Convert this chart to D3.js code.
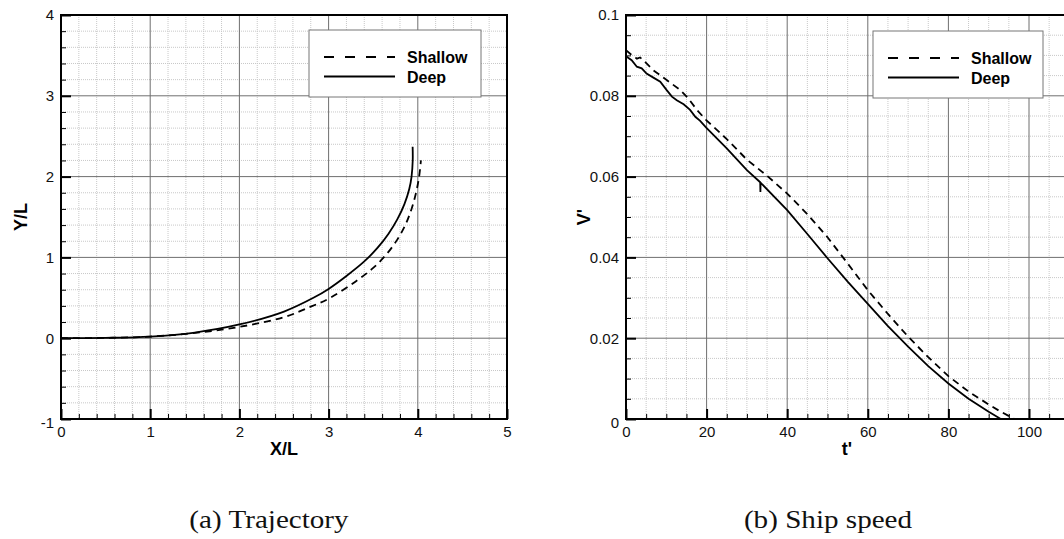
<!DOCTYPE html>
<html>
<head>
<meta charset="utf-8">
<script src="https://cdn.jsdelivr.net/npm/d3@7"></script>
<style>
  body { margin: 0; background: #fff; }
  svg { display: block; }
</style>
</head>
<body>
<svg id="fig" width="1064" height="539"></svg>
<script>
// ---- data ----
const seriesNames = ["Shallow", "Deep"];

// (a) trajectory, X/L vs Y/L
const trajShallowX = [0, 0.5, 1, 1.5, 2, 2.5, 2.8, 3.02, 3.3, 3.5, 3.65, 3.77, 3.86, 3.93, 3.98, 4.015, 4.035];
const trajShallowY = [0, 0.004, 0.02, 0.065, 0.14, 0.26, 0.39, 0.5, 0.7, 0.87, 1.04, 1.22, 1.4, 1.6, 1.8, 2.0, 2.2];
const trajDeepX = [0, 0.5, 1, 1.5, 2, 2.5, 2.83, 3, 3.2, 3.4, 3.55, 3.67, 3.77, 3.85, 3.905, 3.93, 3.943, 3.942];
const trajDeepY = [0, 0.004, 0.02, 0.07, 0.17, 0.33, 0.5, 0.61, 0.77, 0.95, 1.12, 1.29, 1.47, 1.66, 1.85, 2.0, 2.2, 2.37];

// (b) ship speed, t' vs V'
const speedShallowT = [0, 1.4, 2.7, 3.5, 4.7, 6.8, 10.1, 13.5, 15.5, 17.6, 19.9, 25, 30, 35, 40, 45, 50, 55, 60, 65, 70, 75, 80, 85, 90, 93, 96.4];
const speedShallowV = [0.0913, 0.0901, 0.0892, 0.0895, 0.0884, 0.0863, 0.0839, 0.0814, 0.0793, 0.0765, 0.074, 0.0693, 0.0642, 0.0602, 0.0558, 0.0507, 0.045, 0.0385, 0.0319, 0.026, 0.0204, 0.0153, 0.0106, 0.0068, 0.0036, 0.0018, 0];
const speedDeepT = [0, 1.4, 2.7, 3.9, 5.1, 6.8, 8.5, 10.1, 11.4, 12.6, 14.3, 15.9, 17.2, 18.4, 19.9, 25, 30, 33.3, 33.35, 33.4, 40, 45, 50, 55, 60, 65, 70, 75, 80, 85, 90, 93];
const speedDeepV = [0.0898, 0.0888, 0.0872, 0.0868, 0.0855, 0.0845, 0.0835, 0.0814, 0.0798, 0.0789, 0.0779, 0.0765, 0.0748, 0.0738, 0.0721, 0.067, 0.0616, 0.0586, 0.0562, 0.0585, 0.0517, 0.0458, 0.0398, 0.034, 0.0285, 0.023, 0.0179, 0.0131, 0.0088, 0.005, 0.0018, 0];

const trajXTicks = [0, 1, 2, 3, 4, 5];
const trajYTicks = [-1, 0, 1, 2, 3, 4];
const speedXTicks = [0, 20, 40, 60, 80, 100];
const speedYTicks = [0, 0.02, 0.04, 0.06, 0.08, 0.1];
const captions = ["(a) Trajectory", "(b) Ship speed"];

// ---- drawing ----
const svg = d3.select("#fig");
svg.append("rect").attr("width", 1064).attr("height", 539).attr("fill", "#fff");

const SANS = "'Liberation Sans', Arial, sans-serif";
const SERIF = "'Liberation Serif', 'Times New Roman', serif";
const dashCurve = "7,5";
const plain = d => String(d);

function zip(xs, ys) { return xs.map((x, i) => [x, ys[i]]); }

function drawPanel(cfg) {
  const x = d3.scaleLinear().domain(cfg.xDomain).range([cfg.left, cfg.right]);
  const y = d3.scaleLinear().domain(cfg.yDomain).range([cfg.bottom, cfg.top]);
  const g = svg.append("g");

  const xMinor = d3.range(cfg.xDomain[0], cfg.xDomain[1] + 1e-9, cfg.xMinorStep)
    .filter(v => !cfg.xTicks.some(t => Math.abs(t - v) < 1e-9));
  const yMinor = d3.range(cfg.yDomain[0], cfg.yDomain[1] + 1e-9, cfg.yMinorStep)
    .filter(v => !cfg.yTicks.some(t => Math.abs(t - v) < 1e-9));

  // minor grid
  const grid = g.append("g");
  grid.selectAll(".vmin").data(xMinor).join("line")
    .attr("x1", d => x(d)).attr("x2", d => x(d)).attr("y1", cfg.top).attr("y2", cfg.bottom)
    .attr("stroke", "#c8c8c8").attr("stroke-width", 1).attr("stroke-dasharray", "1,1");
  grid.selectAll(".hmin").data(yMinor).join("line")
    .attr("y1", d => y(d)).attr("y2", d => y(d)).attr("x1", cfg.left).attr("x2", cfg.right)
    .attr("stroke", "#c8c8c8").attr("stroke-width", 1).attr("stroke-dasharray", "1,1");
  // major grid
  grid.selectAll(".vmaj").data(cfg.xGrid).join("line")
    .attr("x1", d => x(d)).attr("x2", d => x(d)).attr("y1", cfg.top).attr("y2", cfg.bottom)
    .attr("stroke", "#6f6f6f").attr("stroke-width", 1);
  grid.selectAll(".hmaj").data(cfg.yTicks).join("line")
    .attr("y1", d => y(d)).attr("y2", d => y(d)).attr("x1", cfg.left).attr("x2", cfg.right)
    .attr("stroke", "#6f6f6f").attr("stroke-width", 1);

  // series
  const line = d3.line().x(d => x(d[0])).y(d => y(d[1])).curve(cfg.curve);
  cfg.series.forEach(s => {
    g.append("path").attr("d", line(s.points)).attr("fill", "none")
      .attr("stroke", "#000").attr("stroke-width", 1.8)
      .attr("stroke-dasharray", s.dashed ? dashCurve : null);
  });

  // frame
  g.append("rect").attr("x", cfg.left).attr("y", cfg.top)
    .attr("width", cfg.right - cfg.left).attr("height", cfg.bottom - cfg.top)
    .attr("fill", "none").attr("stroke", "#000").attr("stroke-width", 2);

  // axes with inward ticks
  const xAxis = g.append("g").attr("transform", `translate(0,${cfg.bottom})`)
    .call(d3.axisBottom(x).tickValues(cfg.xTicks).tickFormat(cfg.xFmt)
      .tickSizeInner(-10).tickSizeOuter(0).tickPadding(7));
  const yAxis = g.append("g").attr("transform", `translate(${cfg.left},0)`)
    .call(d3.axisLeft(y).tickValues(cfg.yTicks).tickFormat(cfg.yFmt)
      .tickSizeInner(-10).tickSizeOuter(0).tickPadding(7));
  const xAxisMinor = g.append("g").attr("transform", `translate(0,${cfg.bottom})`)
    .call(d3.axisBottom(x).tickValues(xMinor).tickFormat("").tickSizeInner(-5).tickSizeOuter(0));
  const yAxisMinor = g.append("g").attr("transform", `translate(${cfg.left},0)`)
    .call(d3.axisLeft(y).tickValues(yMinor).tickFormat("").tickSizeInner(-5).tickSizeOuter(0));

  [xAxis, yAxis, xAxisMinor, yAxisMinor].forEach(a => a.select(".domain").remove());
  [xAxis, yAxis].forEach(a => a.selectAll(".tick line").attr("stroke", "#000").attr("stroke-width", 2));
  [xAxisMinor, yAxisMinor].forEach(a => a.selectAll(".tick line").attr("stroke", "#000").attr("stroke-width", 1));
  [xAxis, yAxis].forEach(a => a.selectAll(".tick text")
    .attr("font-family", SANS).attr("font-size", 15).attr("fill", "#111"));
  // lowest y label sits a little below the corner
  yAxis.selectAll(".tick text").filter(d => d === cfg.yDomain[0]).attr("dy", "0.55em");

  // axis titles
  g.append("text").attr("x", cfg.xTitleX).attr("y", 455).attr("text-anchor", "middle")
    .attr("font-family", SANS).attr("font-weight", "bold").attr("font-size", 18)
    .text(cfg.xTitle);
  g.append("text").attr("transform", `translate(${cfg.yTitleX},${(cfg.top + cfg.bottom) / 2}) rotate(-90)`)
    .attr("text-anchor", "middle")
    .attr("font-family", SANS).attr("font-weight", "bold").attr("font-size", 18)
    .text(cfg.yTitle);

  // legend
  const L = cfg.legend;
  const lg = g.append("g").attr("transform", `translate(${L.x},${L.y})`);
  lg.append("rect").attr("width", L.w).attr("height", L.h)
    .attr("fill", "#fff").attr("stroke", "#777").attr("stroke-width", 1);
  cfg.series.forEach((s, i) => {
    const ly = 27 + i * 19.5;
    lg.append("line").attr("x1", 15).attr("x2", 86).attr("y1", ly).attr("y2", ly)
      .attr("stroke", "#000").attr("stroke-width", 2)
      .attr("stroke-dasharray", s.dashed ? "10,11" : null);
    lg.append("text").attr("x", 98).attr("y", ly + 6)
      .attr("font-family", SANS).attr("font-weight", "bold").attr("font-size", 16)
      .text(s.name);
  });

  // caption
  svg.append("text")
    .attr("transform", `translate(${cfg.captionX},528) scale(1.12,1)`)
    .attr("text-anchor", "middle")
    .attr("font-family", SERIF).attr("font-size", 26).attr("fill", "#111")
    .text(cfg.caption);
}

drawPanel({
  left: 61, right: 507, top: 15, bottom: 419,
  xDomain: [0, 5], yDomain: [-1, 4],
  xTicks: trajXTicks, xGrid: trajXTicks, yTicks: trajYTicks, xMinorStep: 0.2, yMinorStep: 0.2,
  xFmt: plain, yFmt: plain,
  xTitle: "X/L", yTitle: "Y/L", xTitleX: 284, yTitleX: 27,
  legend: { x: 309, y: 30, w: 172, h: 67 },
  curve: d3.curveCatmullRom.alpha(0.5),
  series: [
    { name: seriesNames[0], dashed: true, points: zip(trajShallowX, trajShallowY) },
    { name: seriesNames[1], dashed: false, points: zip(trajDeepX, trajDeepY) }
  ],
  caption: captions[0], captionX: 269
});

drawPanel({
  left: 626, right: 626 + 120 * 4.03, top: 15, bottom: 419,
  xDomain: [0, 120], yDomain: [0, 0.1],
  xTicks: speedXTicks, xGrid: speedXTicks.concat([120]), yTicks: speedYTicks, xMinorStep: 5, yMinorStep: 0.005,
  xFmt: plain, yFmt: plain,
  xTitle: "t'", yTitle: "V'", xTitleX: 847, yTitleX: 590,
  legend: { x: 873, y: 31, w: 170, h: 67 },
  curve: d3.curveLinear,
  series: [
    { name: seriesNames[0], dashed: true, points: zip(speedShallowT, speedShallowV) },
    { name: seriesNames[1], dashed: false, points: zip(speedDeepT, speedDeepV) }
  ],
  caption: captions[1], captionX: 828
});
</script>
</body>
</html>
